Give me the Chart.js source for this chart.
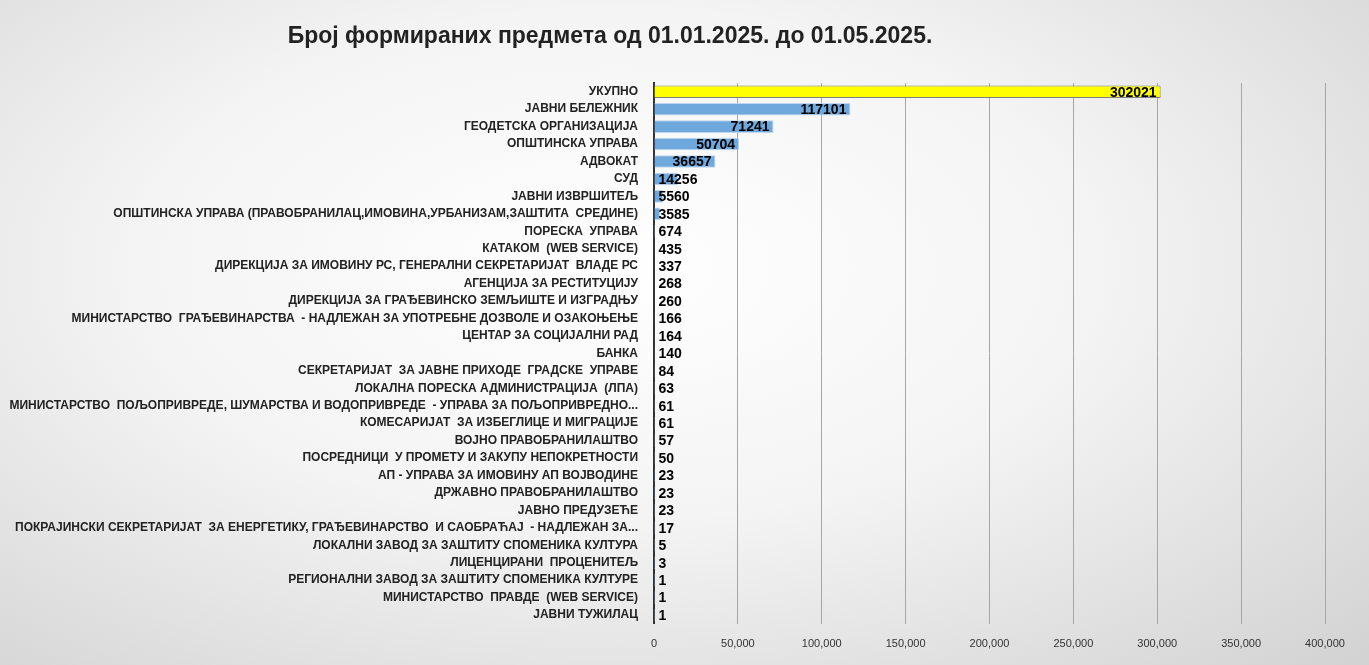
<!DOCTYPE html><html><head><meta charset="utf-8">
<script src="https://cdn.jsdelivr.net/npm/chart.js@4"></script>
<style>html,body{margin:0;padding:0;}body{width:1369px;height:665px;background:radial-gradient(ellipse at 45% 40%,#ffffff 0%,#f4f4f4 45%,#d2d2d2 100%);}</style></head><body><canvas id="c" width="1369" height="665"></canvas>
<script>
const categories=["УКУПНО","ЈАВНИ БЕЛЕЖНИК","ГЕОДЕТСКА ОРГАНИЗАЦИЈА","ОПШТИНСКА УПРАВА","АДВОКАТ","СУД","ЈАВНИ ИЗВРШИТЕЉ","ОПШТИНСКА УПРАВА (ПРАВОБРАНИЛАЦ,ИМОВИНА,УРБАНИЗАМ,ЗАШТИТА  СРЕДИНЕ)","ПОРЕСКА  УПРАВА","КАТАКОМ  (WEB SERVICE)","ДИРЕКЦИЈА ЗА ИМОВИНУ РС, ГЕНЕРАЛНИ СЕКРЕТАРИЈАТ  ВЛАДЕ РС","АГЕНЦИЈА ЗА РЕСТИТУЦИЈУ","ДИРЕКЦИЈА ЗА ГРАЂЕВИНСКО ЗЕМЉИШТЕ И ИЗГРАДЊУ","МИНИСТАРСТВО  ГРАЂЕВИНАРСТВА  - НАДЛЕЖАН ЗА УПОТРЕБНЕ ДОЗВОЛЕ И ОЗАКОЊЕЊЕ","ЦЕНТАР ЗА СОЦИЈАЛНИ РАД","БАНКА","СЕКРЕТАРИЈАТ  ЗА ЈАВНЕ ПРИХОДЕ  ГРАДСКЕ  УПРАВЕ","ЛОКАЛНА ПОРЕСКА АДМИНИСТРАЦИЈА  (ЛПА)","МИНИСТАРСТВО  ПОЉОПРИВРЕДЕ, ШУМАРСТВА И ВОДОПРИВРЕДЕ  - УПРАВА ЗА ПОЉОПРИВРЕДНО...","КОМЕСАРИЈАТ  ЗА ИЗБЕГЛИЦЕ И МИГРАЦИЈЕ","ВОЈНО ПРАВОБРАНИЛАШТВО","ПОСРЕДНИЦИ  У ПРОМЕТУ И ЗАКУПУ НЕПОКРЕТНОСТИ","АП - УПРАВА ЗА ИМОВИНУ АП ВОЈВОДИНЕ","ДРЖАВНО ПРАВОБРАНИЛАШТВО","ЈАВНО ПРЕДУЗЕЋЕ","ПОКРАЈИНСКИ СЕКРЕТАРИЈАТ  ЗА ЕНЕРГЕТИКУ, ГРАЂЕВИНАРСТВО  И САОБРАЋАЈ  - НАДЛЕЖАН ЗА...","ЛОКАЛНИ ЗАВОД ЗА ЗАШТИТУ СПОМЕНИКА КУЛТУРА","ЛИЦЕНЦИРАНИ  ПРОЦЕНИТЕЉ","РЕГИОНАЛНИ ЗАВОД ЗА ЗАШТИТУ СПОМЕНИКА КУЛТУРЕ","МИНИСТАРСТВО  ПРАВДЕ  (WEB SERVICE)","ЈАВНИ ТУЖИЛАЦ"];
const values=[302021,117101,71241,50704,36657,14256,5560,3585,674,435,337,268,260,166,164,140,84,63,61,61,57,50,23,23,23,17,5,3,1,1,1];
const titleText="Број формираних предмета од 01.01.2025. до 01.05.2025.";
const xTicks=[0,50000,100000,150000,200000,250000,300000,350000,400000];
const colors=values.map((v,i)=>i===0?'#ffff00':'#6fa8dc');
const borders=values.map((v,i)=>i===0?'#7f7f7f':'#bdd7ee');
const F='"Liberation Sans Narrow","Liberation Sans",sans-serif';
const lab={id:'lab',afterDatasetsDraw(ch){const ctx=ch.ctx;const m=ch.getDatasetMeta(0);ctx.save();ctx.font='bold 14px "Liberation Sans",sans-serif';ctx.fillStyle='#000';ctx.textBaseline='middle';ctx.textAlign='right';
m.data.forEach((b,i)=>{const t=String(values[i]);const w=ctx.measureText(t).width;const x=Math.max(b.x-4,b.base+4+w);ctx.fillText(t,x,b.y+1);});
ctx.font='bold 23px "Liberation Sans",sans-serif';ctx.textAlign='center';ctx.fillStyle='#222';ctx.fillText(titleText,610,37);ctx.restore();}};
new Chart(document.getElementById('c'),{type:'bar',data:{labels:categories,datasets:[{data:values,backgroundColor:colors,borderColor:borders,borderWidth:1,categoryPercentage:1,barPercentage:0.72}]},
options:{indexAxis:'y',responsive:false,animation:false,devicePixelRatio:1,layout:{padding:{top:83,right:44,bottom:0,left:0}},plugins:{legend:{display:false},tooltip:{enabled:false}},
scales:{x:{min:0,max:400000,afterBuildTicks(s){s.ticks=xTicks.map(v=>({value:v}));},grid:{color:'#a6a6a6',drawTicks:false},border:{display:false},ticks:{padding:14,color:'#333',font:{family:F,size:11}}},
y:{afterFit(s){s.width=654;},grid:{display:false},border:{color:'#333',width:2},ticks:{autoSkip:false,color:'#222',padding:8,font:{family:F,size:12,weight:'bold'}}}}},plugins:[lab]});
</script>
</body></html>
